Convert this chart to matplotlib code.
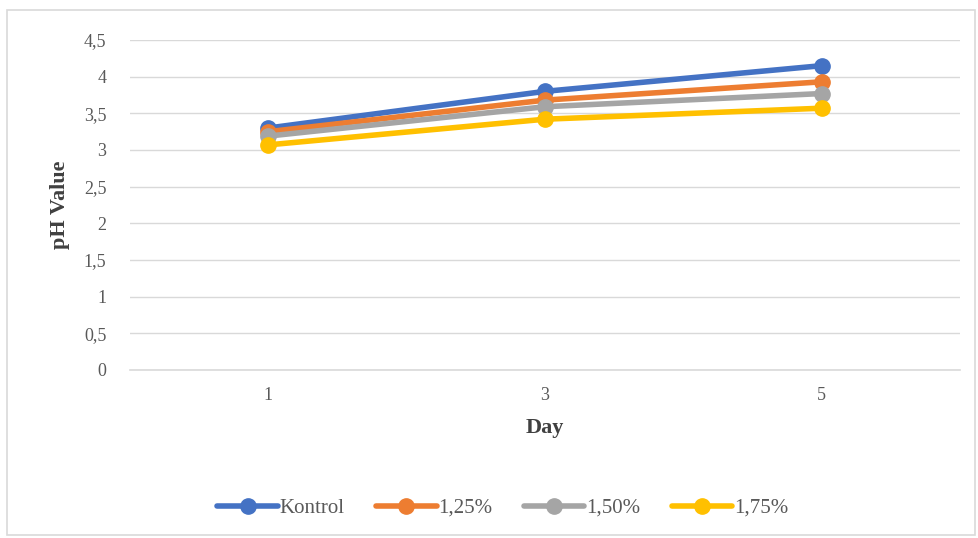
import matplotlib
matplotlib.use("Agg")
import matplotlib.pyplot as plt
from matplotlib.patches import Rectangle

plt.rcParams['font.family'] = ['Liberation Serif', 'DejaVu Serif']

days = ["1", "3", "5"]
kontrol = [3.30, 3.80, 4.15]
p125 = [3.25, 3.68, 3.93]
p150 = [3.19, 3.59, 3.77]
p175 = [3.07, 3.42, 3.57]
series = [("Kontrol", kontrol, "#4472C4"), ("1,25%", p125, "#ED7D31"),
          ("1,50%", p150, "#A5A5A5"), ("1,75%", p175, "#FFC000")]
yticks = [0, 0.5, 1, 1.5, 2, 2.5, 3, 3.5, 4, 4.5]
ytick_labels = ["0", "0,5", "1", "1,5", "2", "2,5", "3", "3,5", "4", "4,5"]

W, H = 979, 538
fig = plt.figure(figsize=(W / 100, H / 100), dpi=100)
fig.patches.append(Rectangle((7 / W, 3 / H), 968 / W, 525 / H, transform=fig.transFigure,
                             fill=False, edgecolor="#D9D9D9", linewidth=1.2))
ax = fig.add_axes([130 / W, 1 - 370 / H, 830 / W, 330 / H])
x = list(range(len(days)))
for name, vals, c in series:
    ax.plot(x, vals, color=c, linewidth=4, marker="o", markersize=11, label=name,
            solid_capstyle="round", zorder=3)
ax.set_xlim(-0.5, len(days) - 0.5)
ax.set_ylim(0, 4.5)
ax.set_yticks(yticks)
ax.set_yticklabels(ytick_labels)
ax.set_xticks(x)
ax.set_xticklabels(days)
ax.grid(axis="y", color="#D9D9D9", linewidth=1)
ax.axhline(0, color="#D9D9D9", linewidth=1.2, clip_on=False, zorder=1)
ax.set_axisbelow(True)
for s in ax.spines.values():
    s.set_visible(False)
ax.tick_params(axis="both", length=0, labelsize=13, colors="#595959", pad=12)
ax.tick_params(axis="y", pad=17)
ax.set_xlabel("Day", fontsize=16, fontweight="bold", color="#404040", labelpad=10)
ax.set_ylabel("pH Value", fontsize=16, fontweight="bold", color="#404040", labelpad=10)
fig.legend(loc="center", bbox_to_anchor=(503 / W, 1 - 508 / H), ncol=4, frameon=False,
           fontsize=15, handlelength=2.9, columnspacing=1.5, handletextpad=0.1,
           labelcolor="#595959")
fig.savefig("out.png", dpi=100)
